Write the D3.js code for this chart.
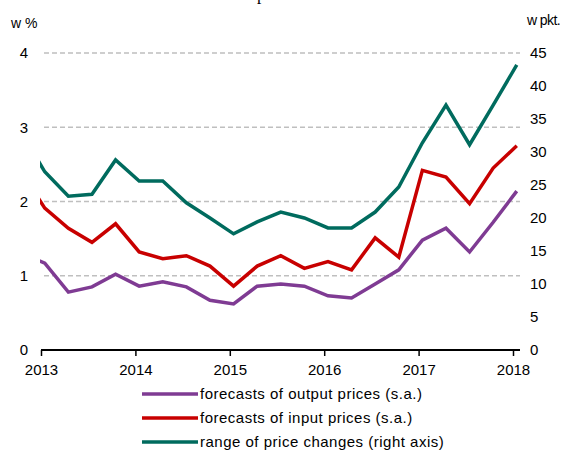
<!DOCTYPE html>
<html>
<head>
<meta charset="utf-8">
<script src="https://cdn.jsdelivr.net/npm/d3@7"></script>
<style>
  body { margin: 0; background: #fff; }
  svg { display: block; font-family: "Liberation Sans", Arial, sans-serif; }
</style>
</head>
<body>
<div id="chart"></div>
<script>
// quarterly survey dates (first point lies just before 2013 and is clipped)
const dates = [2012.79, 2013.04, 2013.29, 2013.54, 2013.79, 2014.04, 2014.29, 2014.54, 2014.79,
  2015.04, 2015.29, 2015.54, 2015.79, 2016.04, 2016.29, 2016.54, 2016.79,
  2017.04, 2017.29, 2017.54, 2017.79, 2018.04];

const outputPrices = [1.30, 1.17, 0.78, 0.85, 1.02, 0.86, 0.92, 0.85, 0.67,
  0.62, 0.86, 0.89, 0.86, 0.73, 0.70, 0.89, 1.08,
  1.48, 1.64, 1.32, 1.72, 2.14];

const inputPrices = [2.40, 1.91, 1.64, 1.45, 1.70, 1.32, 1.23, 1.27, 1.13,
  0.86, 1.13, 1.27, 1.10, 1.19, 1.08, 1.51, 1.25,
  2.42, 2.33, 1.97, 2.45, 2.75];

const priceRange = [33.0, 27.0, 23.3, 23.6, 28.8, 25.6, 25.6, 22.3, 20.0,
  17.6, 19.4, 20.9, 20.0, 18.5, 18.5, 20.9, 24.7,
  31.4, 37.1, 31.1, 37.1, 43.2];

const yearTicks = [2013, 2014, 2015, 2016, 2017, 2018];
const leftTicks = [0, 1, 2, 3, 4];
const rightTicks = [0, 5, 10, 15, 20, 25, 30, 35, 40, 45];

const legendLabels = [
  "forecasts of output prices (s.a.)",
  "forecasts of input prices (s.a.)",
  "range of price changes (right axis)"
];

const colors = ["#7f3b93", "#c80000", "#006b5e"];

const width = 569, height = 450;

const svg = d3.select("#chart").append("svg")
  .attr("width", width)
  .attr("height", height);

const x = d3.scaleLinear().domain([2013, 2018]).range([41, 513]);
const yL = d3.scaleLinear().domain([0, 4]).range([350, 53]);
const yR = d3.scaleLinear().domain([0, 45]).range([350, 53]);

// cut-off title glyph at the very top
svg.append("text")
  .attr("x", 257).attr("y", 0)
  .style("font-family", "'Liberation Serif', 'Times New Roman', serif")
  .style("font-size", "17px")
  .attr("fill", "#000")
  .text("p");

// gridlines
svg.append("g")
  .selectAll("line")
  .data(leftTicks.filter(d => d > 0))
  .enter()
  .append("line")
    .attr("x1", 44).attr("x2", 520)
    .attr("y1", d => yL(d)).attr("y2", d => yL(d))
    .attr("stroke", "#bfbfbf")
    .attr("stroke-width", 1.5)
    .attr("stroke-dasharray", "5,3");

// left axis labels
svg.append("g")
  .selectAll("text")
  .data(leftTicks)
  .enter()
  .append("text")
    .attr("x", 28)
    .attr("y", d => yL(d))
    .attr("dy", "0.35em")
    .attr("text-anchor", "end")
    .style("font-size", "15px")
    .text(d => d);

// right axis labels
svg.append("g")
  .selectAll("text")
  .data(rightTicks)
  .enter()
  .append("text")
    .attr("x", 530)
    .attr("y", d => yR(d))
    .attr("dy", "0.35em")
    .style("font-size", "15px")
    .text(d => d);

svg.append("text")
  .attr("x", 11).attr("y", 28)
  .style("font-size", "14px")
  .text("w %");

svg.append("text")
  .attr("x", 527).attr("y", 25)
  .style("font-size", "14px")
  .style("letter-spacing", "-0.6px")
  .text("w pkt.");

// x axis
const xAxis = svg.append("g")
  .attr("transform", "translate(0,350)")
  .call(d3.axisBottom(x).tickValues(yearTicks).tickFormat(d3.format("d")).tickSize(6).tickSizeOuter(0));
xAxis.select(".domain").attr("stroke", "#000").attr("stroke-width", 2.2)
  .attr("d", "M41,0H520");
xAxis.selectAll(".tick line").attr("stroke", "#000").attr("stroke-width", 1.5);
xAxis.selectAll(".tick text")
  .attr("y", 20)
  .attr("dy", "0.35em")
  .style("font-size", "15px")
  .style("font-family", "'Liberation Sans', Arial, sans-serif")
  .attr("fill", "#000");

// lines
svg.append("clipPath").attr("id", "plot-clip")
  .append("rect").attr("x", 40).attr("y", 40).attr("width", 490).attr("height", 320);

const plot = svg.append("g").attr("clip-path", "url(#plot-clip)");

const series = [
  {values: outputPrices, y: yL},
  {values: inputPrices, y: yL},
  {values: priceRange, y: yR}
];

series.forEach((s, i) => {
  const line = d3.line()
    .x((d, j) => x(dates[j]))
    .y(d => s.y(d));
  plot.append("path")
    .datum(s.values)
    .attr("fill", "none")
    .attr("stroke", colors[i])
    .attr("stroke-width", 3.5)
    .attr("stroke-linejoin", "miter")
    .attr("d", line);
});

// legend
const legend = svg.append("g");
legendLabels.forEach((label, i) => {
  const ly = 394 + i * 24;
  legend.append("line")
    .attr("x1", 142).attr("x2", 198)
    .attr("y1", ly).attr("y2", ly)
    .attr("stroke", colors[i])
    .attr("stroke-width", 3.5);
  legend.append("text")
    .attr("x", 200).attr("y", ly)
    .attr("dy", "0.35em")
    .style("font-size", "15px")
    .style("letter-spacing", "0.5px")
    .text(label);
});
</script>
</body>
</html>
